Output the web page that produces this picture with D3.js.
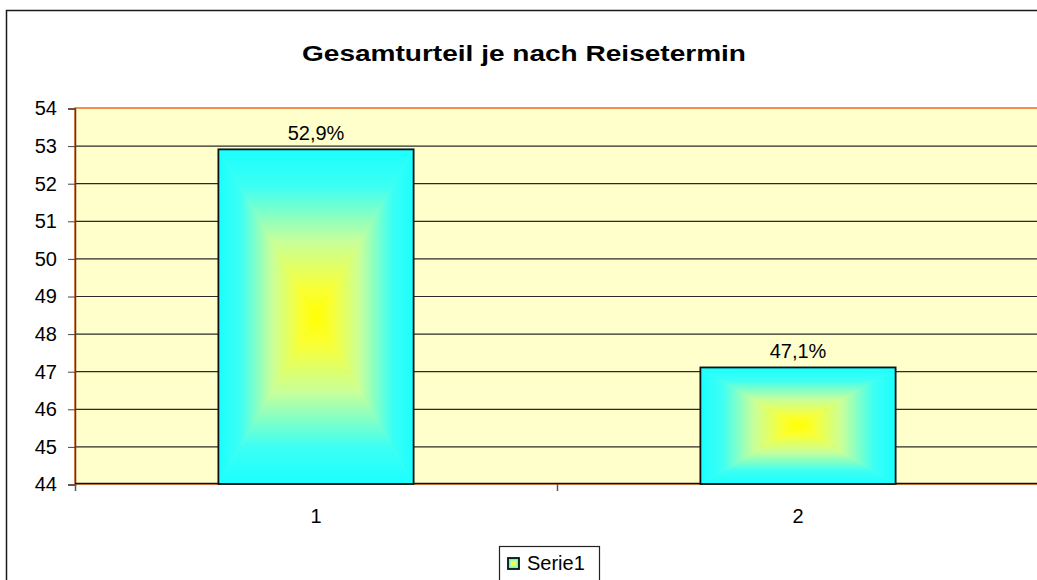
<!DOCTYPE html>
<html>
<head>
<meta charset="utf-8">
<script src="https://cdn.jsdelivr.net/npm/d3@7"></script>
<style>
  body { margin: 0; background: #fff; }
  text { font-family: "Liberation Sans", Arial, sans-serif; fill: #000; }
</style>
</head>
<body>
<script>
const categories = ['1', '2'];
const values = [52.9, 47.1];
const yTicks = [44, 45, 46, 47, 48, 49, 50, 51, 52, 53, 54];
const seriesName = 'Serie1';
const chartTitle = 'Gesamturteil je nach Reisetermin';

const width = 1037, height = 580;
const plot = { left: 75, right: 1039, top: 108, bottom: 484 };

const de = d3.formatLocale({ decimal: ',', thousands: '.', grouping: [3], currency: ['', ' €'] });
const pct = v => de.format('.1f')(v) + '%';

const svg = d3.select('body').append('svg')
  .attr('width', width)
  .attr('height', height);

const defs = svg.append('defs');

const xScale = d3.scaleBand()
  .domain(categories)
  .range([plot.left, plot.right])
  .paddingInner(0.595)
  .paddingOuter(0.2975);

const catScale = d3.scaleBand()
  .domain(categories)
  .range([plot.left, plot.right]);

const yScale = d3.scaleLinear()
  .domain([44, 54])
  .range([plot.bottom, plot.top]);

// chart frame
svg.append('rect')
  .attr('x', 6.5).attr('y', 10.5)
  .attr('width', 1100).attr('height', 700)
  .attr('fill', '#fff')
  .attr('stroke', '#1a1a1a')
  .attr('stroke-width', 1.5);

// title is drawn wide, like the stretched original
svg.append('text')
  .attr('x', 524).attr('y', 61)
  .attr('text-anchor', 'middle')
  .attr('textLength', 444)
  .attr('lengthAdjust', 'spacingAndGlyphs')
  .style('font-weight', 'bold')
  .style('font-size', '22px')
  .text(chartTitle);

// plot area
svg.append('rect')
  .attr('x', plot.left).attr('y', plot.top)
  .attr('width', plot.right - plot.left)
  .attr('height', plot.bottom - plot.top)
  .attr('fill', '#ffffcc')
  .attr('stroke', '#f06a22')
  .attr('stroke-width', 1.5);

svg.append('g')
  .selectAll('line')
  .data(yTicks.filter(d => d > 44 && d < 54))
  .enter().append('line')
    .attr('x1', plot.left).attr('x2', plot.right)
    .attr('y1', d => yScale(d) + 0.5).attr('y2', d => yScale(d) + 0.5)
    .attr('stroke', '#2a2a2a')
    .attr('stroke-width', 1.2);

// y axis
const yAxis = d3.axisLeft(yScale)
  .tickValues(yTicks)
  .tickSize(7)
  .tickPadding(11)
  .tickFormat(d3.format('d'));

const yg = svg.append('g')
  .attr('transform', `translate(${plot.left},0.5)`)
  .call(yAxis);
yg.select('.domain').attr('stroke', '#6e3010').attr('stroke-width', 1.5);
yg.selectAll('.tick line').attr('stroke', '#444');
yg.selectAll('text').style('font-size', '20px').attr('fill', '#000');

// x axis: labels at centers, ticks at category boundaries
const xAxis = d3.axisBottom(xScale).tickSize(0).tickPadding(25);
const xg = svg.append('g')
  .attr('transform', `translate(0,${plot.bottom})`)
  .call(xAxis);
xg.select('.domain').remove();
xg.selectAll('text').style('font-size', '20px').attr('fill', '#000');

svg.append('line')
  .attr('x1', plot.left).attr('x2', plot.right)
  .attr('y1', plot.bottom - 0.5).attr('y2', plot.bottom - 0.5)
  .attr('stroke', '#111').attr('stroke-width', 1.5);

svg.append('g')
  .selectAll('line')
  .data(categories.map(c => catScale(c)).concat([plot.right]))
  .enter().append('line')
    .attr('x1', d => d + 0.5).attr('x2', d => d + 0.5)
    .attr('y1', plot.bottom).attr('y2', plot.bottom + 7)
    .attr('stroke', '#555').attr('stroke-width', 1.5);

// rectangular (center-out) gradient: four triangles per bar
const stops = [
  [0, '#1affff'], [0.22, '#3cfff4'], [0.55, '#c8ff9a'], [0.85, '#fbff30'], [1, '#ffff00']
];

function gradBox(g, id, x, y, w, h) {
  const cx = x + w / 2, cy = y + h / 2;
  const sides = [
    { pts: [[x, y], [x + w, y], [cx, cy]], from: [cx, y], to: [cx, cy] },
    { pts: [[x, y + h], [x + w, y + h], [cx, cy]], from: [cx, y + h], to: [cx, cy] },
    { pts: [[x, y], [x, y + h], [cx, cy]], from: [x, cy], to: [cx, cy] },
    { pts: [[x + w, y], [x + w, y + h], [cx, cy]], from: [x + w, cy], to: [cx, cy] }
  ];
  sides.forEach((s, i) => {
    const gid = `${id}-${i}`;
    const lg = defs.append('linearGradient')
      .attr('id', gid)
      .attr('gradientUnits', 'userSpaceOnUse')
      .attr('x1', s.from[0]).attr('y1', s.from[1])
      .attr('x2', s.to[0]).attr('y2', s.to[1]);
    stops.forEach(st => lg.append('stop').attr('offset', st[0]).attr('stop-color', st[1]));
    g.append('polygon')
      .attr('points', s.pts.map(p => p.join(',')).join(' '))
      .attr('fill', `url(#${gid})`)
      .attr('stroke', `url(#${gid})`)
      .attr('stroke-width', 0.6);
  });
  g.append('rect')
    .attr('x', x).attr('y', y)
    .attr('width', w).attr('height', h)
    .attr('fill', 'none')
    .attr('stroke', '#111')
    .attr('stroke-width', 1.8);
}

const bars = svg.append('g');
categories.forEach((c, i) => {
  const x = xScale(c), w = xScale.bandwidth();
  const y = yScale(values[i]);
  gradBox(bars.append('g'), `bar${i}`, x, y, w, plot.bottom - y);
});

// data labels
svg.append('g')
  .selectAll('text')
  .data(values)
  .enter().append('text')
    .attr('x', (d, i) => xScale(categories[i]) + xScale.bandwidth() / 2)
    .attr('y', d => yScale(d) - 9)
    .attr('text-anchor', 'middle')
    .style('font-size', '20px')
    .text(d => pct(d));

// legend
const lg = svg.append('g');
lg.append('rect')
  .attr('x', 499.5).attr('y', 546.5)
  .attr('width', 100).attr('height', 50)
  .attr('fill', '#fff')
  .attr('stroke', '#222').attr('stroke-width', 1.2);
gradBox(lg.append('g'), 'leg', 508, 558, 11, 11);
lg.append('text')
  .attr('x', 527).attr('y', 570)
  .style('font-size', '20px')
  .text(seriesName);
</script>
</body>
</html>
